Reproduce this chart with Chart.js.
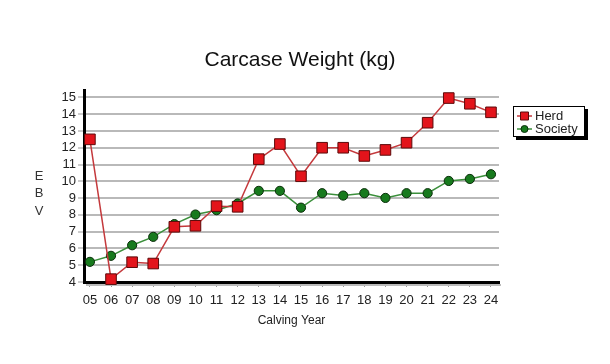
<!DOCTYPE html>
<html>
<head>
<meta charset="utf-8">
<script src="https://cdn.jsdelivr.net/npm/chart.js@4/dist/chart.umd.min.js"></script>
<style>
  html, body { margin: 0; padding: 0; background: #fff; }
  #wrap { width: 610px; height: 364px; }
</style>
</head>
<body>
<div id="wrap"><canvas id="chart1" width="610" height="364"></canvas></div>
<script>
/* ---------- data ---------- */
const years = ["05", "06", "07", "08", "09", "10", "11", "12", "13", "14",
               "15", "16", "17", "18", "19", "20", "21", "22", "23", "24"];
const herd = [12.5, 4.17, 5.18, 5.1, 7.29, 7.35, 8.52, 8.48, 11.32, 12.22,
              10.3, 12.0, 12.0, 11.51, 11.87, 12.3, 13.49, 14.96, 14.62, 14.11];
const society = [5.2, 5.56, 6.19, 6.69, 7.45, 8.02, 8.28, 8.68, 9.43, 9.43,
                 8.43, 9.29, 9.15, 9.29, 9.01, 9.29, 9.29, 10.02, 10.14, 10.42];
const yTicks = [4, 5, 6, 7, 8, 9, 10, 11, 12, 13, 14, 15];

const FONT = "'Liberation Sans', Arial, sans-serif";
const herdFill = '#e3141b', herdEdge = '#5c0a0a', herdLine = '#c4393c';
const socFill = '#177a1d', socEdge = '#0b2e0b', socLine = '#3b8f3b';

/* titre + légende + EBV dessinés à la main */
const decor = {
  id: 'decor',
  beforeDatasetsDraw(chart) {
    // ombre grise sous l'axe x
    const a = chart.chartArea, c = chart.ctx;
    c.save();
    c.fillStyle = '#bbb';
    c.fillRect(a.left + 2, a.bottom + 2, a.right - a.left, 2);
    c.restore();
  },
  afterDraw(chart) {
    const c = chart.ctx;
    c.save();
    c.fillStyle = '#111';
    c.font = '21px ' + FONT;
    c.textAlign = 'center';
    c.textBaseline = 'middle';
    c.fillText('Carcase Weight (kg)', 300, 60);

    c.font = '13px ' + FONT;
    c.fillStyle = '#333';
    ['E', 'B', 'V'].forEach((l, i) => c.fillText(l, 39, 176 + i * 17.5));

    // legend box with shadow
    c.fillStyle = '#000';
    c.fillRect(516, 109, 72, 31);
    c.fillStyle = '#fff';
    c.fillRect(513, 106, 72, 31);
    c.strokeStyle = '#000';
    c.lineWidth = 1;
    c.strokeRect(513.5, 106.5, 71, 30);

    const items = [
      { label: 'Herd', line: herdLine, fill: herdFill, edge: herdEdge, style: 'rect', y: 116 },
      { label: 'Society', line: socLine, fill: socFill, edge: socEdge, style: 'circle', y: 129 }
    ];
    items.forEach(it => {
      c.strokeStyle = it.line;
      c.lineWidth = 1.5;
      c.beginPath();
      c.moveTo(517, it.y);
      c.lineTo(532, it.y);
      c.stroke();
      c.fillStyle = it.fill;
      c.strokeStyle = it.edge;
      c.lineWidth = 1;
      c.beginPath();
      if (it.style === 'rect') c.rect(520.5, it.y - 4, 8, 8);
      else c.arc(524.5, it.y, 3.5, 0, Math.PI * 2);
      c.fill();
      c.stroke();
      c.fillStyle = '#222';
      c.font = '13px ' + FONT;
      c.textAlign = 'left';
      c.fillText(it.label, 535, it.y + 0.5);
    });
    c.restore();
  }
};

const ctx1 = chart1.getContext('2d');

const data1 = {
  datasets: [
    {
      label: 'Herd',
      data: herd.map((v, i) => ({ x: i, y: v })),
      borderColor: herdLine,
      borderWidth: 1.5,
      pointStyle: 'rect',
      pointRadius: 7.5,
      pointBackgroundColor: herdFill,
      pointBorderColor: herdEdge,
      pointBorderWidth: 1,
      tension: 0
    },
    {
      label: 'Society',
      data: society.map((v, i) => ({ x: i, y: v })),
      borderColor: socLine,
      borderWidth: 1.5,
      pointStyle: 'circle',
      pointRadius: 4.6,
      pointBackgroundColor: socFill,
      pointBorderColor: socEdge,
      pointBorderWidth: 1,
      tension: 0
    }
  ]
};

const config1 = {
  type: 'line',
  data: data1,
  plugins: [decor],
  options: {
    responsive: false,
    animation: false,
    clip: false,
    layout: { padding: { top: 90, left: 0, right: 111, bottom: 32 } },
    scales: {
      x: {
        type: 'linear',
        min: -0.28,
        max: 19.38,
        afterFit: s => { s.height = 50; },
        afterBuildTicks: s => { s.ticks = years.map((y, i) => ({ value: i })); },
        ticks: {
          callback: v => years[v],
          color: '#222',
          font: { family: FONT, size: 13 },
          padding: 6,
          maxRotation: 0,
          autoSkip: false
        },
        grid: { drawOnChartArea: false, drawTicks: true, tickLength: 5, color: '#999', lineWidth: 1 },
        border: { color: '#000', width: 3 },
        title: {
          display: true,
          text: 'Calving Year',
          color: '#222',
          font: { family: FONT, size: 12 },
          padding: { top: 0, bottom: 4 }
        }
      },
      y: {
        min: 4,
        max: 15.44,
        afterFit: s => { s.width = 84; },
        afterBuildTicks: s => { s.ticks = yTicks.map(v => ({ value: v })); },
        ticks: {
          color: '#222',
          font: { family: FONT, size: 13 },
          padding: 2,
          autoSkip: false
        },
        grid: { color: '#b9b9b9', lineWidth: 2, tickLength: 6, tickColor: '#999', tickWidth: 1 },
        border: { color: '#000', width: 3 }
      }
    },
    plugins: {
      legend: { display: false },
      tooltip: { enabled: false }
    }
  }
};

const myChart1 = new Chart(ctx1, config1);
</script>
</body>
</html>
